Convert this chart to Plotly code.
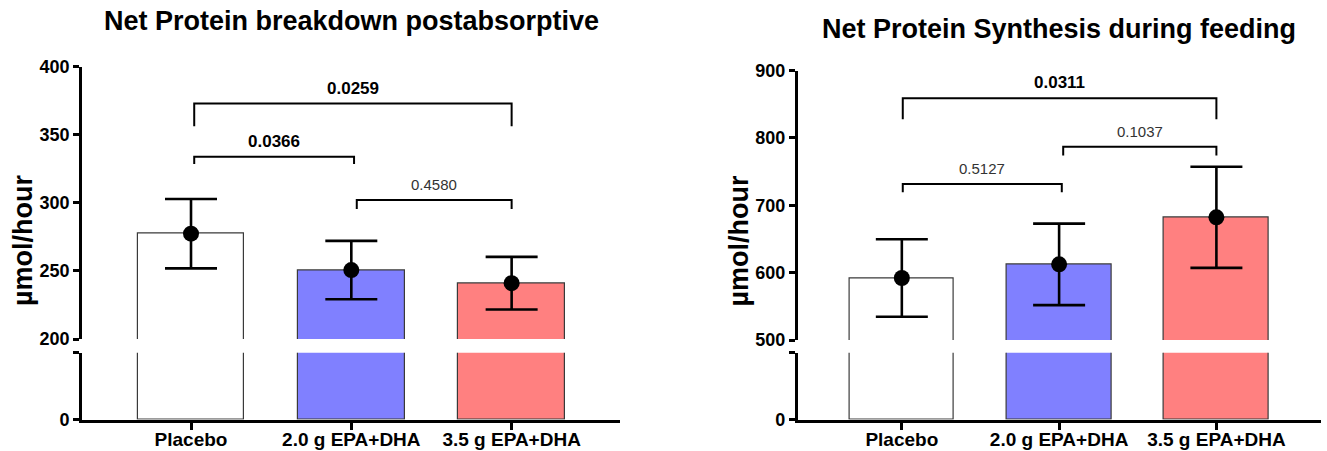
import plotly.graph_objects as go

# ---------------- data ----------------
categories = ["Placebo", "2.0 g EPA+DHA", "3.5 g EPA+DHA"]
bar_colors = ["#FFFFFF", "#8080FF", "#FF8080"]

breakdown_mean = [277.3, 250.6, 241.0]
breakdown_sd = [25.5, 21.4, 19.3]
breakdown_pairs = [(0, 1), (0, 2), (1, 2)]
breakdown_p = ["0.0366", "0.0259", "0.4580"]
breakdown_bold = [True, True, False]
breakdown_bracket_y = [333.8, 372.8, 302.0]
breakdown_bracket_end = [328.4, 356.1, 295.4]

synthesis_mean = [592.0, 612.3, 682.1]
synthesis_sd = [57.5, 60.5, 75.0]
synthesis_pairs = [(0, 1), (1, 2), (0, 2)]
synthesis_p = ["0.5127", "0.1037", "0.0311"]
synthesis_bold = [False, False, True]
synthesis_bracket_y = [731.5, 787.0, 858.7]
synthesis_bracket_end = [719.2, 773.8, 827.6]

titles = ["Net Protein breakdown postabsorptive", "Net Protein Synthesis during feeding"]
y_label = "µmol/hour"

W, H = 1327, 451
FONT = "Liberation Sans, Arial, sans-serif"


def px_x(p):
    return p / W


def px_y(p):
    return 1 - p / H


fig = go.Figure()

panels = [
    dict(mean=breakdown_mean, sd=breakdown_sd, pairs=breakdown_pairs, p=breakdown_p,
         bold=breakdown_bold, by=breakdown_bracket_y, be=breakdown_bracket_end,
         xa="x", ylow="y", yup="y2", upper=[200, 400], dtick=50, lower=[0, 60],
         xdom=[px_x(82), px_x(620)], updom=[px_y(339), px_y(66.5)],
         xrange=[-0.68, 2.676], title_x=351.5, title_y=21, ylab_x=23, left_off=[0.02, 0.034]),
    dict(mean=synthesis_mean, sd=synthesis_sd, pairs=synthesis_pairs, p=synthesis_p,
         bold=synthesis_bold, by=synthesis_bracket_y, be=synthesis_bracket_end,
         xa="x2", ylow="y3", yup="y4", upper=[500, 900], dtick=100, lower=[0, 120],
         xdom=[px_x(797.7), px_x(1321)], updom=[px_y(340), px_y(70.5)],
         xrange=[-0.662, 2.665], title_x=1059, title_y=28.5, ylab_x=738.5, left_off=[0.006, 0.026]),
]

xs = list(range(len(categories)))
annotations = []

for i, P in enumerate(panels):
    # bars in both segments
    for ya in (P["ylow"], P["yup"]):
        fig.add_trace(go.Bar(
            x=xs, y=P["mean"], width=0.665,
            marker=dict(color=bar_colors, line=dict(color="#3a3a3a", width=1.2)),
            xaxis=P["xa"], yaxis=ya, showlegend=False, hoverinfo="skip"))
    # mean points with SD error bars
    fig.add_trace(go.Scatter(
        x=xs, y=P["mean"], mode="markers",
        marker=dict(color="black", size=16),
        error_y=dict(type="data", array=P["sd"], visible=True, color="black",
                     thickness=2.6, width=26),
        xaxis=P["xa"], yaxis=P["yup"], showlegend=False, hoverinfo="skip",
        cliponaxis=False))
    # significance brackets
    for (a, b), lab, bold, yb, ye in zip(P["pairs"], P["p"], P["bold"], P["by"], P["be"]):
        xa0 = a + (P["left_off"][0] if a == 0 else P["left_off"][1])
        xb0 = b + (0.017 if b == 1 else 0.0)
        fig.add_trace(go.Scatter(
            x=[xa0, xa0, xb0, xb0], y=[ye, yb, yb, ye], mode="lines",
            line=dict(color="black", width=2),
            xaxis=P["xa"], yaxis=P["yup"], showlegend=False, hoverinfo="skip",
            cliponaxis=False))
        annotations.append(dict(
            x=(xa0 + xb0) / 2, y=yb, xref=P["xa"], yref=P["yup"],
            text=f"<b>{lab}</b>" if bold else lab, showarrow=False,
            yanchor="middle", yshift=15.5,
            font=dict(family=FONT, size=17 if bold else 15,
                      color="black" if bold else "#333333")))
    # titles and y labels
    annotations.append(dict(
        x=px_x(P["title_x"]), y=px_y(P["title_y"]), xref="paper", yref="paper",
        text=f"<b>{titles[i]}</b>", showarrow=False, xanchor="center", yanchor="middle",
        font=dict(family=FONT, size=27, color="black")))
    annotations.append(dict(
        x=px_x(P["ylab_x"]), y=px_y(240), xref="paper", yref="paper",
        text=f"<b>{y_label}</b>", showarrow=False, textangle=-90,
        xanchor="center", yanchor="middle",
        font=dict(family=FONT, size=27, color="black")))

axis_common = dict(showgrid=False, zeroline=False, showline=True, linecolor="black",
                   linewidth=2.6, ticks="outside", tickcolor="black", tickwidth=2.6,
                   automargin=False,
                   tickfont=dict(family=FONT, size=18, color="black", weight="bold"))

low_dom = [px_y(419.5), px_y(352.7)]

layout = dict(
    width=W, height=H, margin=dict(l=0, r=0, t=0, b=0, pad=0, autoexpand=False),
    paper_bgcolor="white", plot_bgcolor="white", bargap=0,
    annotations=annotations,
)
for i, P in enumerate(panels):
    xkey = "xaxis" if P["xa"] == "x" else "xaxis2"
    lowkey = "yaxis" if P["ylow"] == "y" else "yaxis3"
    upkey = "yaxis2" if P["yup"] == "y2" else "yaxis4"
    layout[xkey] = dict(axis_common, domain=P["xdom"], range=P["xrange"], anchor=P["ylow"],
                        tickvals=xs, ticktext=categories, ticklen=8, ticklabelstandoff=-7,
                        tickfont=dict(family=FONT, size=19, color="black", weight="bold"))
    layout[lowkey] = dict(axis_common, domain=low_dom, range=P["lower"], anchor=P["xa"],
                          tickvals=P["lower"], ticktext=["0", ""], ticklen=6)
    layout[upkey] = dict(axis_common, domain=P["updom"], range=P["upper"], anchor=P["xa"],
                         tick0=P["upper"][0], dtick=P["dtick"], ticklen=6)

fig.update_layout(**layout)
fig.write_html(
    "out.html",
    config={"displayModeBar": False},
    post_script="document.body.style.margin='0px';document.body.style.overflow='hidden';",
)
